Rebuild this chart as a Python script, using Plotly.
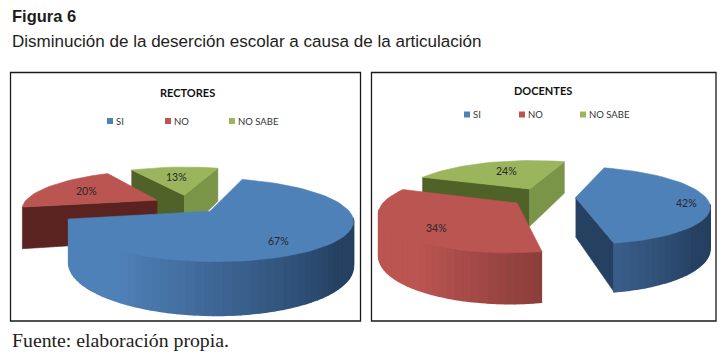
import math
import plotly.graph_objects as go

categories = ["SI", "NO", "NO SABE"]
rectores_values = [67, 20, 13]
docentes_values = [42, 34, 24]

BASE = ["#4f81b9", "#bb5552", "#9bb55c"]
WALL_DARK = ["#254061", "#602926", "#4f6228"]
START_FACE = ["#254061", "#5a2320", "#4f6228"]
END_FACE = ["#254061", "#5a2320", "#7a9448"]
FIRST_ANGLE = 18
EXPLODE = 0.25
K = 0.2
LABEL_FONT = "Lato"


def mix(a, b, f):
    ca = [int(a[i:i + 2], 16) for i in (1, 3, 5)]
    cb = [int(b[i:i + 2], 16) for i in (1, 3, 5)]
    return "rgb(%d,%d,%d)" % tuple(round(p + (q - p) * f) for p, q in zip(ca, cb))


def poly(fig, xs, ys, color, width=0.6):
    fig.add_trace(go.Scatter(x=xs, y=ys, mode="lines", fill="toself", fillcolor=color,
                             line=dict(color=color, width=width), hoverinfo="skip",
                             showlegend=False))


def pie3d(fig, values, cx, cy, rx, ry, depth, label_fracs, label_nudge):
    def proj(X, Y):
        s = 1 / (1 + K * Y)
        return cx + rx * X * s, cy - ry * Y * s, cy - ry * Y * s + depth * s

    spans = []
    a = FIRST_ANGLE
    for v in values:
        spans.append((a, a + v * 3.6))
        a += v * 3.6

    # paint from the back slice to the front slice
    for i in (2, 1, 0):
        a0, a1 = spans[i]
        mid = math.radians((a0 + a1) / 2)
        ex, ey = EXPLODE * math.sin(mid), EXPLODE * math.cos(mid)
        n = max(8, int((a1 - a0) / 3))
        ts = [a0 + (a1 - a0) * j / n for j in range(n + 1)]
        rim = [proj(ex + math.sin(math.radians(t)), ey + math.cos(math.radians(t))) for t in ts]
        apex = proj(ex, ey)

        if math.cos(math.radians(a0 - 90)) < 0:
            p = rim[0]
            poly(fig, [apex[0], p[0], p[0], apex[0]], [apex[1], p[1], p[2], apex[2]], START_FACE[i])
        if math.cos(math.radians(a1 + 90)) < 0:
            p = rim[-1]
            poly(fig, [apex[0], p[0], p[0], apex[0]], [apex[1], p[1], p[2], apex[2]], END_FACE[i])

        for j in range(n):
            t = (ts[j] + ts[j + 1]) / 2
            if math.cos(math.radians(t)) < -0.17:
                f = min(1, max(0, (215 - t) / 85))
                p, q = rim[j], rim[j + 1]
                poly(fig, [p[0], q[0], q[0], p[0]], [p[1], q[1], q[2], p[2]],
                     mix(BASE[i], WALL_DARK[i], f), width=1.6)

        poly(fig, [apex[0]] + [p[0] for p in rim] + [apex[0]],
             [apex[1]] + [p[1] for p in rim] + [apex[1]], BASE[i])

        lx, ly, _ = proj(ex + label_fracs[i] * math.sin(mid), ey + label_fracs[i] * math.cos(mid))
        fig.add_annotation(x=lx + label_nudge[i][0], y=ly + label_nudge[i][1],
                           text="%d%%" % values[i], showarrow=False,
                           font=dict(family=LABEL_FONT, size=10.5, color="#26262b"))


fig = go.Figure()
pie3d(fig, rectores_values, 187, 204, 134, 37, 41, [0.67, 0.64, 0.6],
      [(-3, 7), (0, 0), (-1, 0)])
pie3d(fig, docentes_values, 543, 197, 130, 37, 39, [0.83, 0.76, 0.55],
      [(1, 3), (10, 4), (2, -3)])

shapes = [
    dict(type="rect", x0=10.5, x1=360.5, y0=72.5, y1=321, line=dict(color="#1a1a1a", width=1.3)),
    dict(type="rect", x0=371.5, x1=716, y0=72.5, y1=321, line=dict(color="#1a1a1a", width=1.3)),
]
texts = [
    (10, 16, "<b>Figura 6</b>", "Liberation Sans", 16.5, "left", "#1d1d1b"),
    (10, 41, "Disminución de la deserción escolar a causa de la articulación", "Liberation Sans", 17.05, "left", "#1d1d1b"),
    (10, 340, "Fuente: elaboración propia.", "Liberation Serif", 19.8, "left", "#1d1d1b"),
    (187, 92, "<b>RECTORES</b>", LABEL_FONT, 11, "center", "#111111"),
    (543, 90, "<b>DOCENTES</b>", LABEL_FONT, 11, "center", "#111111"),
]
for x, y, t, fam, size, anchor, col in texts:
    fig.add_annotation(x=x, y=y, text=t, showarrow=False, xanchor=anchor,
                       font=dict(family=fam, size=size, color=col))

legend_x = [[107, 165, 229], [464, 519, 580]]
legend_y = [121, 114.5]
for row in range(2):
    for i, name in enumerate(categories):
        fig.add_trace(go.Scatter(x=[legend_x[row][i] + 3], y=[legend_y[row]], mode="markers",
                                 marker=dict(symbol="square", size=6, color=BASE[i]),
                                 hoverinfo="skip", showlegend=False))
        fig.add_annotation(x=legend_x[row][i] + 7, y=legend_y[row], text=name, showarrow=False,
                           xanchor="left",
                           font=dict(family=LABEL_FONT, size=9.5, color="#333333"))

fig.update_layout(width=728, height=356, autosize=False, margin=dict(l=0, r=0, t=0, b=0),
                  paper_bgcolor="white", plot_bgcolor="white", shapes=shapes, showlegend=False,
                  xaxis=dict(range=[0, 728], visible=False, fixedrange=True),
                  yaxis=dict(range=[356, 0], visible=False, fixedrange=True))
fig.write_html("out.html", config={"displayModeBar": False},
               post_script="document.body.style.margin='0';")
